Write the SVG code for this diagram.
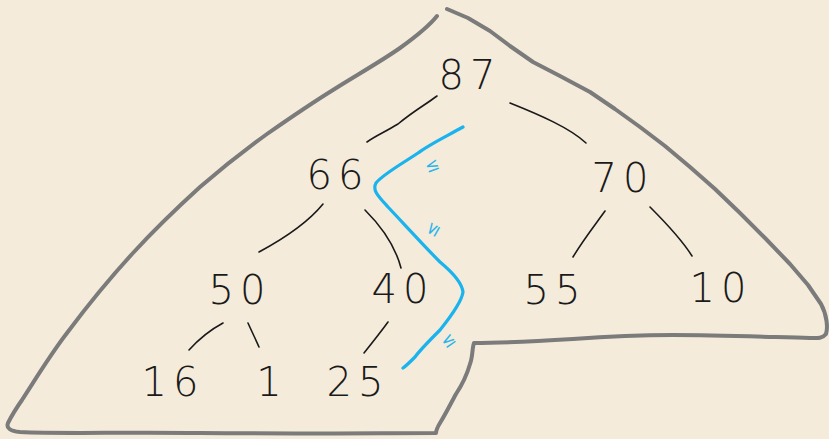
<svg xmlns="http://www.w3.org/2000/svg" width="829" height="439" viewBox="0 0 829 439">
<style>
.t{font-family:"DejaVu Sans","Liberation Sans",sans-serif;font-weight:200;font-size:40px;fill:#1a1a1a;text-anchor:middle;letter-spacing:6px}
.e{fill:none;stroke:#1a1a1a;stroke-width:1.6;stroke-linecap:round}
.le{font-family:"DejaVu Sans",sans-serif;font-size:17px;fill:#29b5ec;text-anchor:middle}
</style>
<rect width="829" height="439" fill="#f4ebda"/>
<g id="outline">
<path d="M447,9 L468,18 L490,31 L510,46 L533,62 L560,76 L590,92 L615,109 L640,127 L665,146 L690,167 L715,189 L740,213 L765,238 L790,264 L808,285 L821,304 C827,315 828,328 826,334 C822,339 816,338 810,338 C770,337 720,335 673,335 C640,335 600,337 573,339 C540,341 500,343 474,343 C472,348 473,356 470,364 C466,378 460,388 456,394 C450,405 445,415 440,423 C437,428 436,430 436,433 C380,433 300,434 200,433 C120,432 60,434 20,432 C10,431 6,428 8,423 C12,415 15,410 22,400 C35,380 50,355 67,333 C88,305 110,278 133,253 C155,229 178,207 200,187 C222,168 245,150 267,134 C290,118 312,103 333,90 C355,76 380,62 400,48 C418,35 430,25 437,16" fill="none" stroke="#7b7b7b" stroke-width="4" stroke-linecap="round" stroke-linejoin="round"/>
</g>
<g id="edges">
<path class="e" d="M437,96 C425,105 415,110 398,124 C385,132 375,136 367,142"/>
<path class="e" d="M510,103 C540,115 570,128 586,143"/>
<path class="e" d="M323,204 C310,220 285,238 259,252"/>
<path class="e" d="M365,210 C380,225 395,245 401,268"/>
<path class="e" d="M605,211 C595,225 583,240 573,257"/>
<path class="e" d="M650,207 C665,222 682,240 692,256"/>
<path class="e" d="M223,323 C210,330 198,340 189,350"/>
<path class="e" d="M248,323 C252,332 256,340 259,347"/>
<path class="e" d="M388,322 C380,333 372,343 364,353"/>
</g>
<g id="path-highlight">
<path d="M463,127 C445,137 430,144 418,153 C400,165 382,175 376,183 C372,190 378,196 388,207 C405,225 425,247 440,262 C452,272 462,283 463,292 C462,300 452,315 440,330 C428,342 420,350 415,357 C410,362 406,366 403,368" fill="none" stroke="#1ab3ee" stroke-width="3.2" stroke-linecap="round" stroke-linejoin="round"/>
<text class="le" x="432" y="171" transform="rotate(-20 432 165)">≤</text>
<text class="le" x="432" y="235" transform="rotate(-60 432 229)">≤</text>
<text class="le" x="448" y="346" transform="rotate(-35 448 340)">≤</text>
</g>
<g id="n87"><text class="t" x="470" y="89">87</text></g>
<g id="n66"><text class="t" x="338" y="189">66</text></g>
<g id="n70"><text class="t" x="623" y="192">70</text></g>
<g id="n50"><text class="t" x="240" y="304">50</text></g>
<g id="n40"><text class="t" x="403" y="303">40</text></g>
<g id="n55"><text class="t" x="555" y="304">55</text></g>
<g id="n10"><text class="t" x="721" y="302">10</text></g>
<g id="n16"><text class="t" x="173" y="396">16</text></g>
<g id="n1"><text class="t" x="272" y="396">1</text></g>
<g id="n25"><text class="t" x="358" y="396">25</text></g>
</svg>
